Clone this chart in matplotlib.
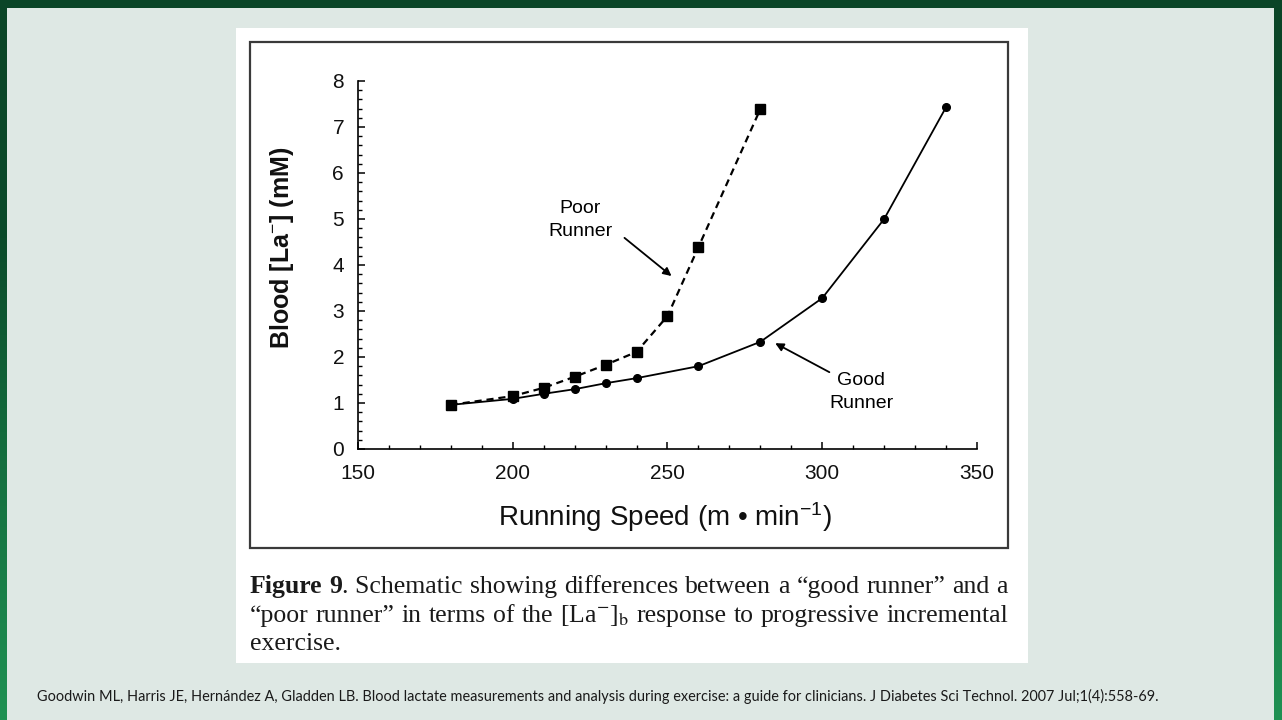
import numpy as np
import matplotlib
matplotlib.use('Agg')
import matplotlib.pyplot as plt
from matplotlib.patches import Rectangle
from matplotlib.ticker import MultipleLocator
from matplotlib.colors import LinearSegmentedColormap

# ---------------- data ----------------
speed_poor = [180, 200, 210, 220, 230, 240, 250, 260, 280]
lactate_poor = [0.96, 1.15, 1.33, 1.57, 1.83, 2.11, 2.89, 4.39, 7.39]
speed_good = [180, 200, 210, 220, 230, 240, 260, 280, 300, 320, 340]
lactate_good = [0.96, 1.09, 1.20, 1.30, 1.43, 1.54, 1.80, 2.33, 3.28, 5.00, 7.43]
x_ticks = [150, 200, 250, 300, 350]
y_ticks = [0, 1, 2, 3, 4, 5, 6, 7, 8]
x_label = "Running Speed (m • min$^{-1}$)"
y_label = r"Blood [La$^{-}$] (mM)"
poor_label = "Poor\nRunner"
good_label = "Good\nRunner"
citation = ("Goodwin ML, Harris JE, Hernández A, Gladden LB. Blood lactate measurements and "
            "analysis during exercise: a guide for clinicians. J Diabetes Sci Technol. "
            "2007 Jul;1(4):558-69.")

plt.rcParams['mathtext.fontset'] = 'custom'
plt.rcParams['mathtext.rm'] = 'Liberation Sans'
plt.rcParams['mathtext.it'] = 'Liberation Sans:italic'
plt.rcParams['mathtext.bf'] = 'Liberation Sans:bold'
plt.rcParams['font.family'] = ['Liberation Sans', 'DejaVu Sans']

W, H = 1282, 720
fig = plt.figure(figsize=(W / 100, H / 100), dpi=100)


def fx(px):
    return px / W


def fy(py):
    return 1 - py / H


# ---------------- slide background ----------------
bg = fig.add_axes([0, 0, 1, 1], zorder=-10)
bg.set_axis_off()
cmap = LinearSegmentedColormap.from_list(
    'g', [(0, '#0a4527'), (0.33, '#0b4a2a'), (0.6, '#136a3c'), (1, '#1f9153')])
grad = np.linspace(0, 1, 256).reshape(-1, 1)
bg.imshow(grad, cmap=cmap, aspect='auto', extent=[0, 1, 0, 1], origin='upper')
bg.set_xlim(0, 1)
bg.set_ylim(0, 1)

fig.add_artist(Rectangle((fx(7), 0), fx(1274) - fx(7), fy(8), transform=fig.transFigure,
                         facecolor='#dee8e4', edgecolor='none', zorder=-5))
fig.add_artist(Rectangle((fx(236), fy(663)), fx(1028) - fx(236), fy(28) - fy(663),
                         transform=fig.transFigure, facecolor='white', edgecolor='none', zorder=-4))
fig.add_artist(Rectangle((fx(250), fy(548)), fx(1008) - fx(250), fy(42) - fy(548),
                         transform=fig.transFigure, fill=False, edgecolor='#3a3a3a',
                         linewidth=1.6, zorder=-3))

# ---------------- chart ----------------
ax = fig.add_axes([fx(358), fy(449), fx(977) - fx(358), fy(81) - fy(449)])
ax.set_facecolor('none')

ax.plot(speed_good, lactate_good, color='black', linewidth=1.3, linestyle='-',
        marker='o', markersize=5.5, zorder=3)
ax.plot(speed_poor, lactate_poor, color='black', linewidth=1.6, linestyle=(0, (3.2, 2.2)),
        marker='s', markersize=6.5, zorder=4)

ax.set_xlim(150, 350)
ax.set_ylim(0, 8)
ax.set_xticks(x_ticks)
ax.set_yticks(y_ticks)
ax.xaxis.set_minor_locator(MultipleLocator(10))
ax.yaxis.set_minor_locator(MultipleLocator(0.2))
for s in ['top', 'right']:
    ax.spines[s].set_visible(False)
for s in ['left', 'bottom']:
    ax.spines[s].set_linewidth(1.2)
    ax.spines[s].set_color('black')
ax.tick_params(axis='both', which='major', direction='in', length=5, width=1.1,
               labelsize=15, colors='black', labelcolor='#111111')
ax.tick_params(axis='both', which='minor', direction='in', length=3, width=1.0)
ax.tick_params(axis='x', which='major', pad=11)
ax.tick_params(axis='y', which='major', pad=10)

ax.set_xlabel(x_label, fontsize=20, color='#111111')
ax.xaxis.label.set_va('center')
ax.xaxis.set_label_coords((665 - 358) / 619, (449 - 517) / 368)
ax.set_ylabel(y_label, fontsize=18, fontweight='bold', color='#111111')
ax.yaxis.label.set_va('center')
ax.yaxis.set_label_coords((282 - 358) / 619, (449 - 248) / 368)

ax.text(221.9, 4.98, poor_label, fontsize=14, ha='center', va='center',
        multialignment='center', linespacing=1.45)
ax.text(312.6, 1.23, good_label, fontsize=14, ha='center', va='center',
        multialignment='center', linespacing=1.45)
ax.annotate('', xy=(251.3, 3.76), xytext=(236.1, 4.59),
            arrowprops=dict(arrowstyle='-|>', color='black', lw=1.3, mutation_scale=12,
                            shrinkA=0, shrinkB=0))
ax.annotate('', xy=(284.8, 2.30), xytext=(302.3, 1.67),
            arrowprops=dict(arrowstyle='-|>', color='black', lw=1.3, mutation_scale=12,
                            shrinkA=0, shrinkB=0))

# ---------------- caption ----------------
renderer = fig.canvas.get_renderer()
cap_fs = 18.5


def place_line(tokens, y_px, x0_px, x1_px=None):
    items = []
    for tok in tokens:
        pieces = []
        for s, w in tok:
            t = fig.text(0, fy(y_px), s, fontsize=cap_fs, fontweight=w,
                         family='Liberation Serif', va='baseline', ha='left',
                         math_fontfamily='stix', color='#1a1a1a')
            wpx = t.get_window_extent(renderer).width
            pieces.append((t, wpx))
        items.append(pieces)
    widths = [sum(p[1] for p in pieces) for pieces in items]
    if x1_px is not None and len(items) > 1:
        gap = (x1_px - x0_px - sum(widths)) / (len(items) - 1)
    else:
        gap = cap_fs * 100 / 72 * 0.25
    x = x0_px
    for pieces in items:
        for t, wpx in pieces:
            t.set_x(fx(x))
            x += wpx
        x += gap


line1 = [[("Figure", 'bold')], [("9", 'bold'), (". Schematic", 'normal')]] + \
    [[(w, 'normal')] for w in "showing differences between a “good runner” and a".split()]
line2 = [[(w, 'normal')] for w in "“poor runner” in terms of the".split()] + \
    [[(r"[La$^{-}$]$_{\mathrm{b}}$", 'normal')]] + \
    [[(w, 'normal')] for w in "response to progressive incremental".split()]
line3 = [[("exercise.", 'normal')]]
place_line(line1, 593, 250, 1008)
place_line(line2, 622, 250, 1008)
place_line(line3, 650, 250)

# ---------------- citation ----------------
ct = fig.text(fx(37), fy(701), citation, family=['Lato', 'DejaVu Sans'], fontsize=11,
              va='baseline', ha='left', color='#1a1a1a')
wct = ct.get_window_extent(renderer).width
ct.set_fontsize(11 * (1155 - 37) / wct)

fig.savefig('out.png', dpi=100)
